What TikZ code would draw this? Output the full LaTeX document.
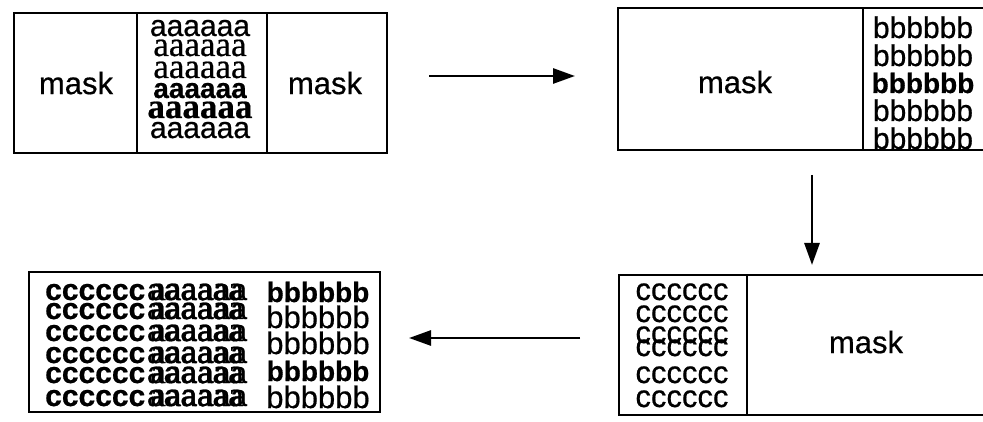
\documentclass[tikz,border=0pt]{standalone}
\usepackage{fontspec}
\setmainfont{Liberation Sans}[FakeBold=0.6]
\newfontfamily\serifface{Liberation Serif}[FakeBold=0.6]
\usetikzlibrary{arrows.meta}
% sizes in points, y axis pointing down
\newcommand{\fs}[1]{\fontsize{#1}{#1}\selectfont}
\begin{document}
\begin{tikzpicture}[x=1pt,y=-1pt,
  frame/.style={draw, line width=2.4pt, inner sep=0pt, outer sep=0pt},
  divider/.style={line width=2pt},
  flow/.style={line width=2.8pt, -{Triangle[length=22pt,width=15pt]}},
  label/.style={inner sep=0pt, font=\fs{31}},
  txt/.style={inner sep=0pt, anchor=base},
  sans/.style={txt, font=\fs{30}},
  sansbold/.style={txt, font=\fs{28}\bfseries},
  serif/.style={txt, font=\fs{35}\serifface},
  serifbold/.style={txt, font=\fs{35}\serifface\bfseries},
]
\useasboundingbox (0,0) rectangle (983,422);
\clip (0,0) rectangle (983,422);

% ---- frames ----
\node[frame, minimum width=373pt, minimum height=140pt] (f1) at (200.5,83) {};
\node[frame, minimum width=372pt, minimum height=142pt] (f2) at (804,79) {};
\node[frame, minimum width=351pt, minimum height=140pt] (f3) at (204.5,342) {};
\node[frame, minimum width=371pt, minimum height=140pt] (f4) at (804.5,345) {};

\draw[divider] (137,13) -- (137,153);
\draw[divider] (267,13) -- (267,153);
\draw[divider] (863,8) -- (863,150);
\draw[divider] (747,275) -- (747,415);

% ---- labels ----
\node[label] (m1) at (76,83) {mask};
\node[label] (m2) at (325,83) {mask};
\node[label] (m3) at (735,82) {mask};
\node[label] (m4) at (866,342) {mask};

% ---- first frame: column of a ----
\node[sans]      (a1) at (200,36)  {aaaaaa};
\node[serif]     (a2) at (200,56)  {aaaaaa};
\node[serif]     (a3) at (200,78)  {aaaaaa};
\node[sansbold]  (a4) at (200,98)  {aaaaaa};
\node[serifbold] (a5) at (200,118) {aaaaaa};
\node[sans]      (a6) at (200,138) {aaaaaa};

% ---- second frame: column of b ----
\node[sans]     (b1) at (923,38)  {bbbbbb};
\node[sans]     (b2) at (923,66)  {bbbbbb};
\node[sansbold] (b3) at (923,93)  {bbbbbb};
\node[sans]     (b4) at (923,121) {bbbbbb};
\node[sans]     (b5) at (923,149) {bbbbbb};

% ---- fourth frame: column of c ----
\foreach \y [count=\i] in {300,322,343,356,383,407}
  \node[sans, font=\fs{31}] (c\i) at (682,\y) {cccccc};

% ---- third frame: combined rows ----
\foreach \y [count=\i] in {300,319,341,363,383,406} {
  \node[txt, anchor=base west, font=\fs{30}\bfseries] (cc\i) at (45,\y) {cccccc};
  \node[sans]  (sa\i) at (197,\y) {aaaaaa};
  \node[serif] (ra\i) at (197,\y) {aaaaaa};
}
\node[sansbold] (bb1) at (318,302) {bbbbbb};
\node[sans, font=\fs{31}] (bb2) at (318,328) {bbbbbb};
\node[sans, font=\fs{31}] (bb3) at (318,354) {bbbbbb};
\node[sansbold] (bb4) at (318,381) {bbbbbb};
\node[sans, font=\fs{31}] (bb5) at (318,408) {bbbbbb};

% ---- arrows ----
\coordinate (p0) at (429,76);
\coordinate (p1) at (575,76);
\coordinate (q0) at (812,175);
\coordinate (q1) at (812,265);
\coordinate (s0) at (580,338);
\coordinate (s1) at (409,338);
\draw[flow] (p0) -- (p1);
\draw[flow] (q0) -- (q1);
\draw[flow] (s0) -- (s1);
\end{tikzpicture}
\end{document}
